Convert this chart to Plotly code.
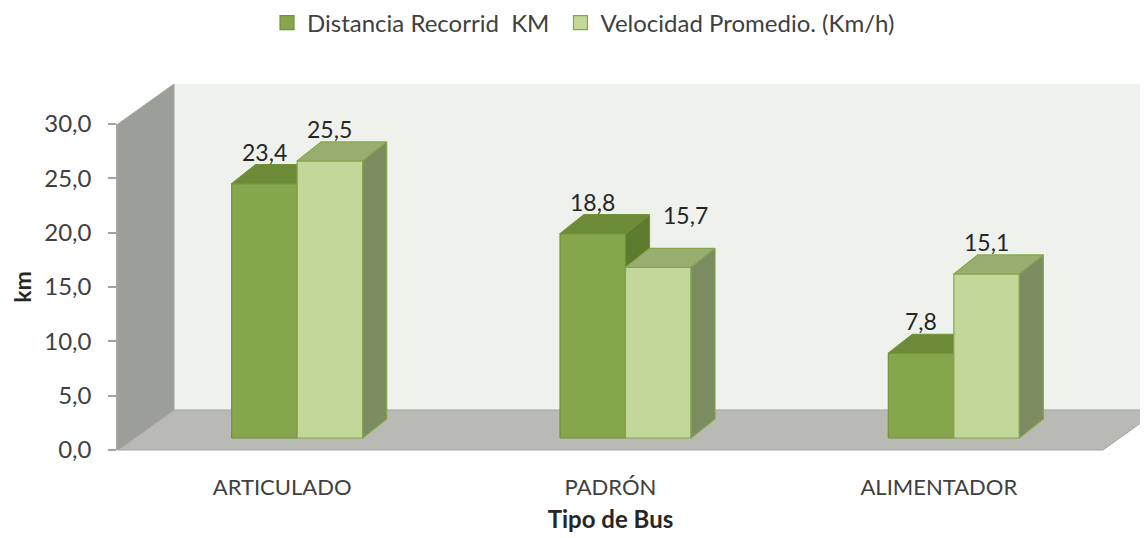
import plotly.graph_objects as go

# ---------------- data ----------------
categories = ["ARTICULADO", "PADRÓN", "ALIMENTADOR"]
distancia = [23.4, 18.8, 7.8]
velocidad = [25.5, 15.7, 15.1]
series_names = ["Distancia Recorrid\u00a0 KM\u00a0", "Velocidad Promedio. (Km/h)"]
y_tick_values = [0, 5, 10, 15, 20, 25, 30]

# ---------------- layout geometry ----------------
# the page body has an 8px margin, so the figure is drawn 8px smaller
W, H = 1140, 530
ML, MR, MT, MB = 110, 45, 116, 88
PLOT_W = W - ML - MR
PLOT_H = H - MT - MB
X_RANGE = [-0.5, len(categories) - 0.5]
Y_RANGE = [0, 30]
PX_PER_CAT = PLOT_W / (X_RANGE[1] - X_RANGE[0])
PX_PER_UNIT = PLOT_H / (Y_RANGE[1] - Y_RANGE[0])

WALL_DEPTH_PX = (56, 40)     # 3D depth of walls / floor
BAR_FRONT_PX = (15, 12)      # shift of bar front face into the depth
BAR_DEPTH_PX = (24, 19)      # depth of each bar
BAR_W_PX = 65.5


def dx(px):
    return px / PX_PER_CAT


def dy(px):
    return px / PX_PER_UNIT


BW = dx(BAR_W_PX)
FX, FY = dx(BAR_FRONT_PX[0]), dy(BAR_FRONT_PX[1])
DDX, DDY = dx(BAR_DEPTH_PX[0]), dy(BAR_DEPTH_PX[1])

styles = [
    dict(front="#86A64B", top="#6C8A37", side="#5D7A2D", line="#72923A"),
    dict(front="#C4D79B", top="#98AE70", side="#7C8C60", line="#86A64B"),
]

FONT = "Lato"
fig = go.Figure()


def add_poly(xs, ys, fill, line):
    fig.add_trace(go.Scatter(
        x=xs, y=ys, mode="lines", fill="toself", fillcolor=fill,
        line=dict(color=line, width=1.2), hoverinfo="skip", showlegend=False,
    ))


label_nudges = {(1, 1): (27, 20)}
annotations = []

for s, values in enumerate([distancia, velocidad]):
    st = styles[s]
    fx, fy, tx, ty, sx, sy = [], [], [], [], [], []
    for i, v in enumerate(values):
        xl = i - BW + s * BW + FX
        xr = xl + BW
        y0 = FY
        y1 = FY + v
        fx += [xl, xr, xr, xl, xl, None]
        fy += [y0, y0, y1, y1, y0, None]
        tx += [xl, xr, xr + DDX, xl + DDX, xl, None]
        ty += [y1, y1, y1 + DDY, y1 + DDY, y1, None]
        sx += [xr, xr + DDX, xr + DDX, xr, xr, None]
        sy += [y0, y0 + DDY, y1 + DDY, y1, y0, None]
        nx, ny = label_nudges.get((s, i), (0, 0))
        annotations.append(dict(
            x=(xl + xr) / 2, y=y1 + DDY, xref="x", yref="y",
            text=f"{v:.1f}".replace(".", ","), showarrow=False,
            yanchor="bottom", xanchor="center", xshift=nx, yshift=ny - 3,
            font=dict(family=FONT, size=23, color="#262626"),
        ))
    add_poly(fx, fy, st["front"], st["line"])
    add_poly(tx, ty, st["top"], st["line"])
    add_poly(sx, sy, st["side"], st["line"])

# legend entries
for s, name in enumerate(series_names):
    fig.add_trace(go.Scatter(
        x=[None], y=[None], mode="markers", name=name,
        marker=dict(symbol="square", size=14, color=styles[s]["front"],
                    line=dict(color=styles[s]["line"], width=1.2)),
    ))

# walls and floor (paper coordinates, pseudo-3D frame)
WDX = WALL_DEPTH_PX[0] / PLOT_W
WDY = WALL_DEPTH_PX[1] / PLOT_H
edge = dict(color="#A3A3A3", width=1)
shapes = [
    dict(type="path", xref="paper", yref="paper", layer="below",
         path=f"M{WDX},{WDY} L{1 + WDX + 0.2},{WDY} L{1 + WDX + 0.2},{1 + WDY} L{WDX},{1 + WDY} Z",
         fillcolor="#EFF2EC", line=dict(width=0)),
    dict(type="path", xref="paper", yref="paper", layer="below",
         path=f"M0,0 L0,1 L{WDX},{1 + WDY} L{WDX},{WDY} Z",
         fillcolor="#9C9E98", line=edge),
    dict(type="path", xref="paper", yref="paper", layer="below",
         path=f"M0,0 L1,0 L{1 + WDX},{WDY} L{WDX},{WDY} Z",
         fillcolor="#B8BAB3", line=edge),
]

fig.update_layout(
    width=W, height=H,
    margin=dict(l=ML, r=MR, t=MT, b=MB, autoexpand=False),
    paper_bgcolor="white", plot_bgcolor="rgba(0,0,0,0)",
    separators=",.",
    shapes=shapes,
    annotations=annotations,
    showlegend=True,
    legend=dict(orientation="h", x=0.4726, y=1.31, xanchor="center", yanchor="middle",
                font=dict(family=FONT, size=24, color="#404040"),
                bgcolor="rgba(0,0,0,0)", itemwidth=30),
    xaxis=dict(range=X_RANGE, tickvals=list(range(len(categories))), ticktext=categories,
               showgrid=False, zeroline=False, showline=False, ticks="",
               ticklabelstandoff=22,
               tickfont=dict(family=FONT, size=22, color="#404040"),
               title=dict(text="<b>Tipo de Bus</b>", standoff=12,
                          font=dict(family=FONT, size=24, color="#262626"))),
    yaxis=dict(range=Y_RANGE, tickvals=y_tick_values, tickformat=".1f",
               showgrid=False, zeroline=False, showline=True, linecolor="#A3A3A3", linewidth=1.5,
               ticks="outside", ticklen=8, tickcolor="#A3A3A3", tickwidth=1.5,
               ticklabelstandoff=12,
               tickfont=dict(family=FONT, size=24, color="#404040"),
               title=dict(text="<b>km</b>", standoff=15,
                          font=dict(family=FONT, size=23, color="#262626"))),
)

fig.write_html("out.html")
